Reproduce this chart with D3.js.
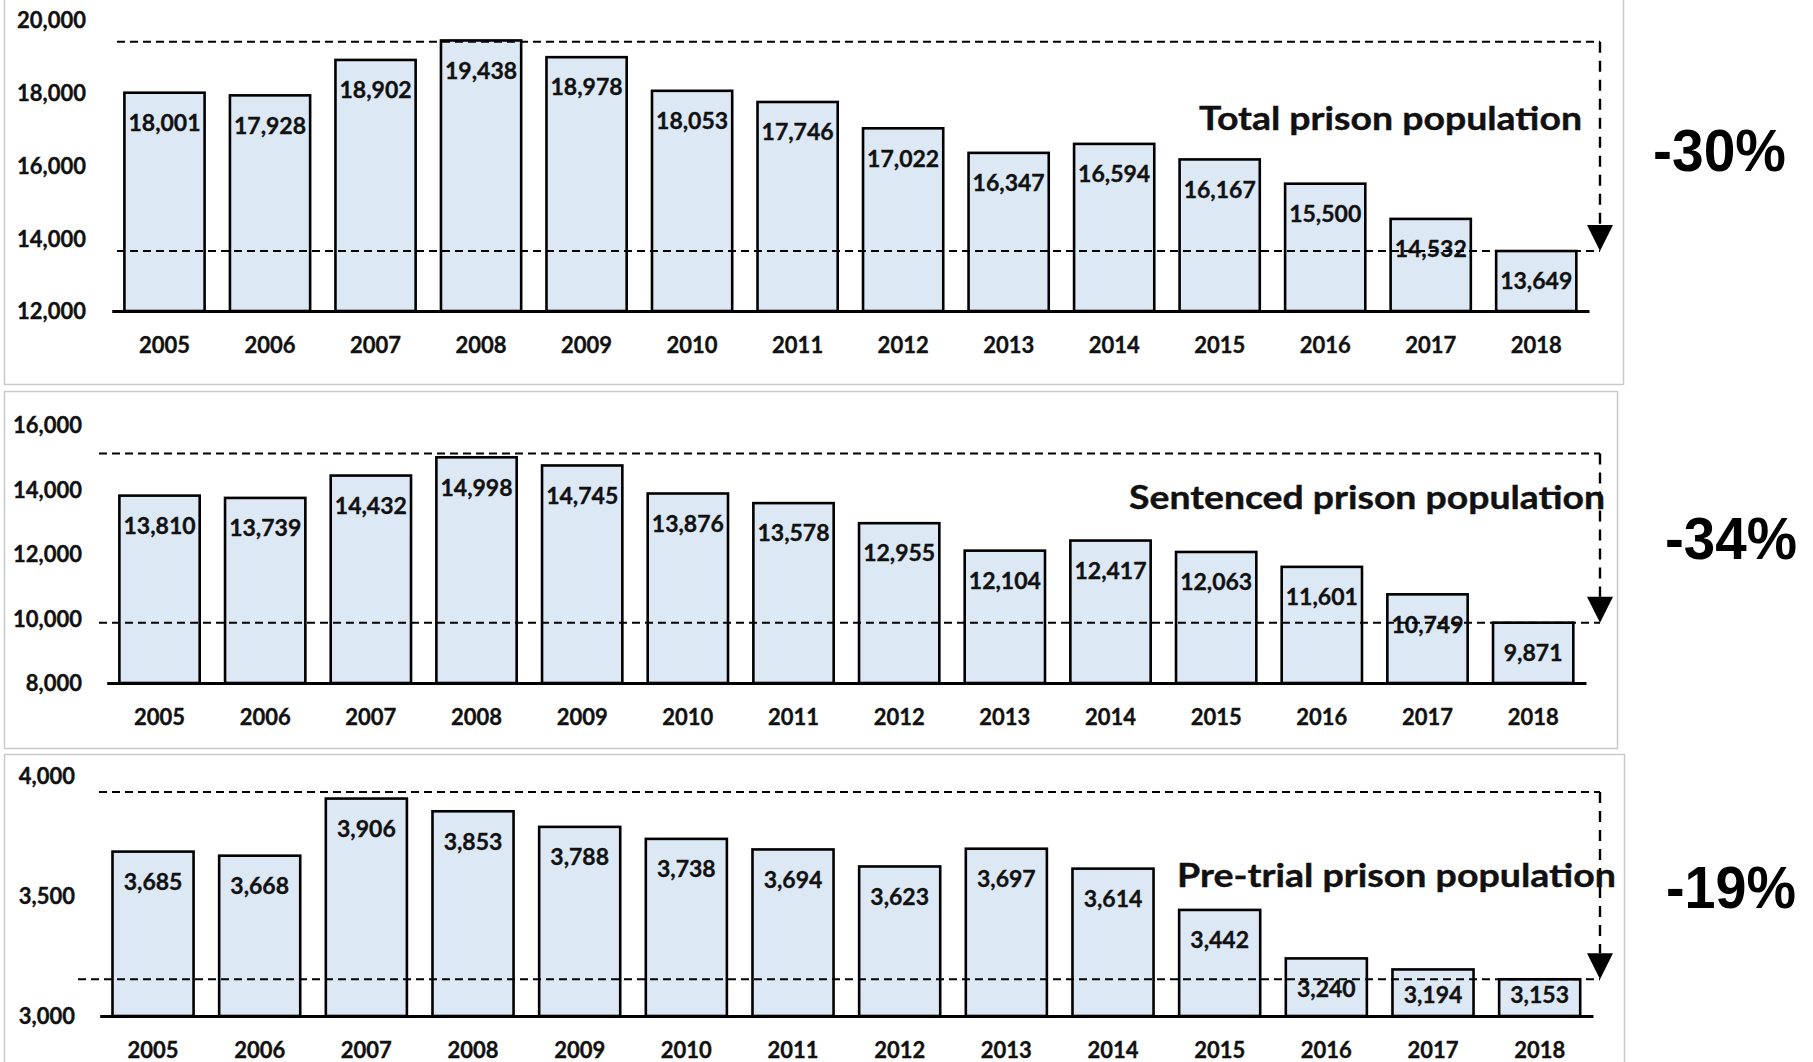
<!DOCTYPE html>
<html>
<head>
<meta charset="utf-8">
<script src="https://cdn.jsdelivr.net/npm/d3@7"></script>
<style>
  html, body { margin: 0; padding: 0; background: #ffffff; }
  svg { display: block; }
</style>
</head>
<body>
<svg id="chart" width="1813" height="1062"></svg>
<script>
// ---- data ----
const years = ["2005","2006","2007","2008","2009","2010","2011","2012","2013","2014","2015","2016","2017","2018"];
const totalValues = [18001,17928,18902,19438,18978,18053,17746,17022,16347,16594,16167,15500,14532,13649];
const sentencedValues = [13810,13739,14432,14998,14745,13876,13578,12955,12104,12417,12063,11601,10749,9871];
const pretrialValues = [3685,3668,3906,3853,3788,3738,3694,3623,3697,3614,3442,3240,3194,3153];

const totalTicks = [12000,14000,16000,18000,20000];
const sentencedTicks = [8000,10000,12000,14000,16000];
const pretrialTicks = [3000,3500,4000];

const titles = ["Total prison population","Sentenced prison population","Pre-trial prison population"];
const changeLabels = ["-30%","-34%","-19%"];
// reference (dashed) levels: [high, low]
const totalRefs = [19400, 13649];
const sentencedRefs = [15120, 9871];
const pretrialRefs = [3933, 3153];

// ---- layout (positions only) ----
const panels = [
  { values: totalValues, ticks: totalTicks, refs: totalRefs, title: titles[0], change: changeLabels[0],
    domain: [12000, 20000], yRange: [311, 20], xRange: [111.75, 1589],
    tickRight: 86, dashStartHi: 117, dashStartLo: 117,
    titleX: [1199, 1582], titleBase: 130, changeX: [1653, 1786], changeBase: 171,
    border: { x0: 4, y0: -2, x1: 1623, y1: 384 } },
  { values: sentencedValues, ticks: sentencedTicks, refs: sentencedRefs, title: titles[1], change: changeLabels[1],
    domain: [8000, 16000], yRange: [683, 425], xRange: [106.7, 1586],
    tickRight: 82, dashStartHi: 99, dashStartLo: 99,
    titleX: [1129, 1605], titleBase: 509, changeX: [1665, 1797], changeBase: 559,
    border: { x0: 4, y0: 391, x1: 1617, y1: 748 } },
  { values: pretrialValues, ticks: pretrialTicks, refs: pretrialRefs, title: titles[2], change: changeLabels[2],
    domain: [3000, 4000], yRange: [1016, 776], xRange: [99.7, 1593],
    tickRight: 75, dashStartHi: 99, dashStartLo: 78,
    titleX: [1177, 1616], titleBase: 887, changeX: [1666, 1796], changeBase: 908,
    border: { x0: 4, y0: 754, x1: 1624, y1: 1070 } }
];

const svg = d3.select("#chart");
const FONT = "Lato, 'Open Sans', sans-serif";
const vertX = 1600;

panels.forEach(p => {
  const g = svg.append("g");
  // panel border
  g.append("rect")
    .attr("x", p.border.x0 + 0.5).attr("y", p.border.y0 + 0.5)
    .attr("width", p.border.x1 - p.border.x0).attr("height", p.border.y1 - p.border.y0)
    .attr("fill", "none").attr("stroke", "#c9c9c9").attr("stroke-width", 1.5);

  const x = d3.scaleBand().domain(years).range(p.xRange).paddingInner(0.24).paddingOuter(0.12);
  const y = d3.scaleLinear().domain(p.domain).range(p.yRange);
  const base = y(p.domain[0]);

  // y axis labels
  const yAxis = d3.axisLeft(y).tickValues(p.ticks).tickFormat(d3.format(",")).tickSize(0).tickPadding(0);
  const ya = g.append("g").attr("transform", `translate(${p.tickRight},0)`).call(yAxis);
  ya.select(".domain").remove();
  ya.selectAll("text")
    .attr("font-family", FONT).attr("font-weight", 700).attr("font-size", 22)
    .attr("fill", "#111").attr("stroke", "#111").attr("stroke-width", 0.35)
    .attr("x", 0).attr("dy", "0.36em");

  // bars
  g.selectAll("rect.bar").data(p.values).enter().append("rect")
    .attr("class", "bar")
    .attr("x", (d, i) => x(years[i]))
    .attr("y", d => y(d))
    .attr("width", x.bandwidth())
    .attr("height", d => base - y(d))
    .attr("fill", "#dde8f5")
    .attr("stroke", "#000").attr("stroke-width", 2.6);

  // x axis
  const xAxis = d3.axisBottom(x).tickSize(0).tickSizeOuter(0).tickPadding(0);
  const xa = g.append("g").attr("transform", `translate(0,${base})`).call(xAxis);
  xa.select(".domain").attr("stroke", "#000").attr("stroke-width", 3);
  xa.selectAll("text")
    .attr("font-family", FONT).attr("font-weight", 700).attr("font-size", 22)
    .attr("fill", "#111").attr("stroke", "#111").attr("stroke-width", 0.35)
    .attr("y", 34).attr("dy", "0.36em");

  // value labels
  g.selectAll("text.val").data(p.values).enter().append("text")
    .attr("class", "val")
    .attr("x", (d, i) => x(years[i]) + x.bandwidth() / 2)
    .attr("y", d => Math.min(y(d) + 30, base - 21))
    .attr("dy", "0.36em")
    .attr("text-anchor", "middle")
    .attr("font-family", FONT).attr("font-weight", 700).attr("font-size", 23)
    .attr("fill", "#111").attr("stroke", "#111").attr("stroke-width", 0.35)
    .text(d => d3.format(",")(d));

  // dashed reference lines
  const yHi = y(p.refs[0]), yLo = y(p.refs[1]);
  g.append("line").attr("x1", p.dashStartHi).attr("x2", vertX).attr("y1", yHi).attr("y2", yHi)
    .attr("stroke", "#000").attr("stroke-width", 2).attr("stroke-dasharray", "8,5");
  g.append("line").attr("x1", p.dashStartLo).attr("x2", vertX).attr("y1", yLo).attr("y2", yLo)
    .attr("stroke", "#000").attr("stroke-width", 2).attr("stroke-dasharray", "8,5");
  g.append("line").attr("x1", vertX).attr("x2", vertX).attr("y1", yHi).attr("y2", yLo - 26)
    .attr("stroke", "#000").attr("stroke-width", 2.4).attr("stroke-dasharray", "11,8");
  g.append("path")
    .attr("d", `M${vertX - 13},${yLo - 26} L${vertX + 13},${yLo - 26} L${vertX},${yLo} Z`)
    .attr("fill", "#000");

  // title
  g.append("text")
    .attr("x", p.titleX[0]).attr("y", p.titleBase)
    .attr("font-family", FONT).attr("font-weight", 700).attr("font-size", 32)
    .attr("fill", "#111").attr("stroke", "#111").attr("stroke-width", 0.4)
    .attr("textLength", p.titleX[1] - p.titleX[0]).attr("lengthAdjust", "spacingAndGlyphs")
    .text(p.title);

  // change label
  g.append("text")
    .attr("x", p.changeX[0]).attr("y", p.changeBase)
    .attr("font-family", "'Liberation Sans', Arial, sans-serif").attr("font-weight", 700).attr("font-size", 60)
    .attr("fill", "#000")
    .attr("textLength", p.changeX[1] - p.changeX[0]).attr("lengthAdjust", "spacingAndGlyphs")
    .text(p.change);
});
</script>
</body>
</html>
